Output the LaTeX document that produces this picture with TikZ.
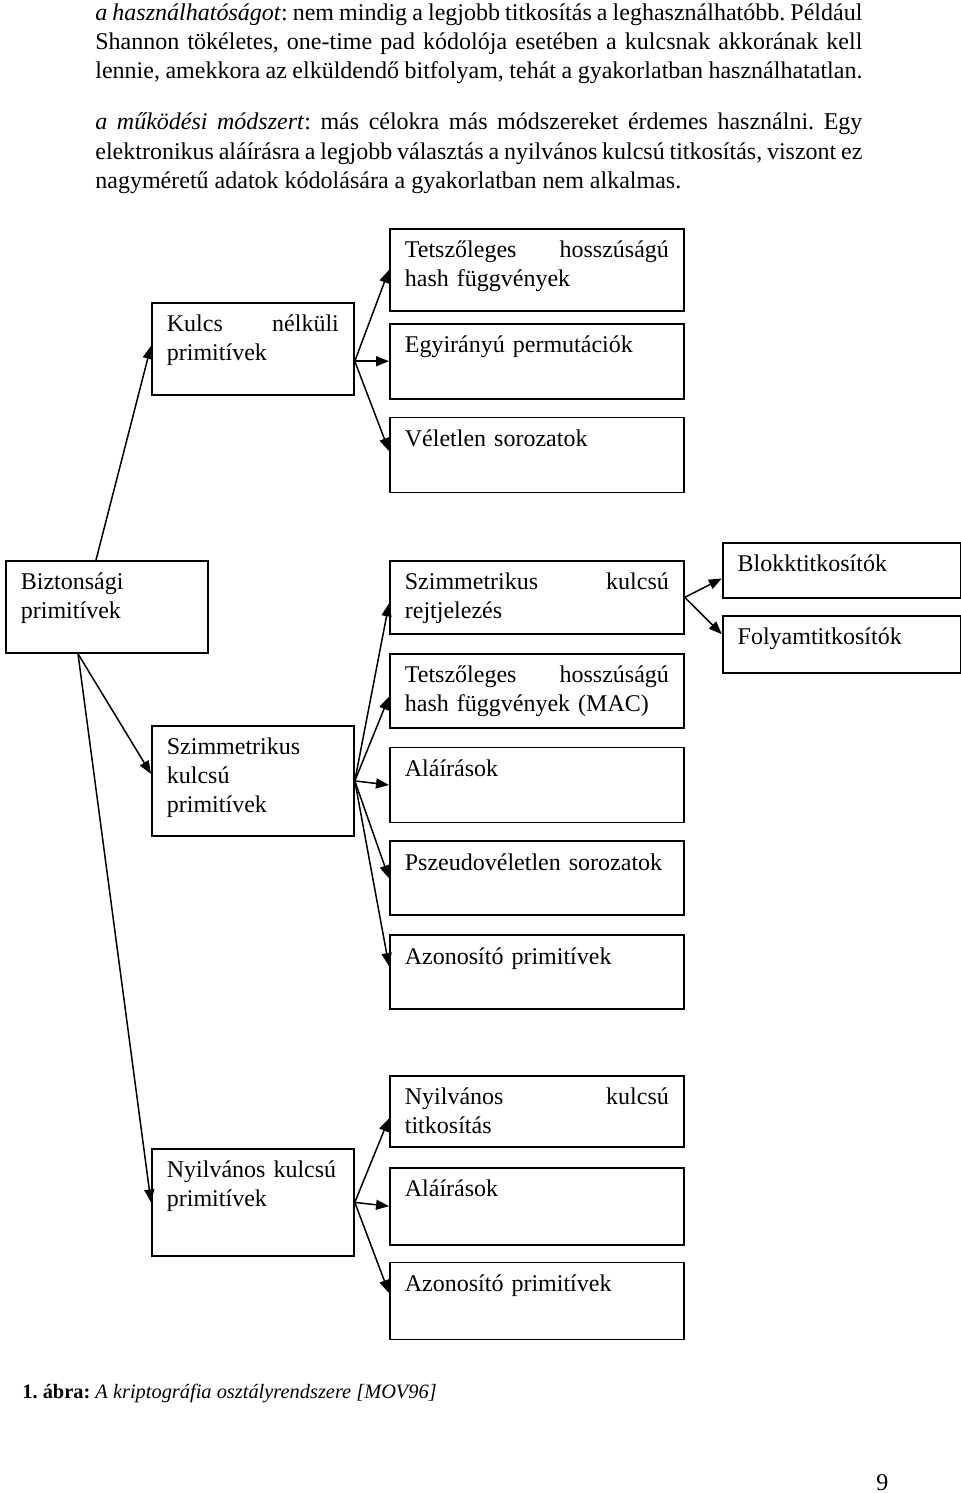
\documentclass[tikz,border=0pt]{standalone}
\usepackage{fontspec}
\setmainfont{Liberation Serif}
\usetikzlibrary{positioning,arrows.meta}
\frenchspacing

\tikzset{
  box/.style={draw, line width=0.9pt, align=left, inner xsep=7.5pt, inner ysep=5.5pt, text height=9pt},
  lbox/.style={box, text width=86pt, text depth=#1},
  rbox/.style={box, text width=132pt, text depth=#1},
  sbox/.style={box, text width=104pt, text depth=#1},
  link/.style={-{Triangle[length=6.5pt,width=5pt]}, line width=0.75pt},
  para/.style={anchor=base west, inner sep=0pt, text width=383.5pt, align=justify,
    execute at begin node={\hyphenpenalty=10000\exhyphenpenalty=10000\tolerance=10000}}
}

\begin{document}
\begin{tikzpicture}[x=0.5pt, y=-0.5pt, font=\fontsize{12}{14.5}\selectfont]
  \useasboundingbox (0,0) rectangle (960,1493);

  % Text
  \node[para] (par1) at (95,21) {\textit{a használhatóságot}: nem mindig a legjobb titkosítás a leghasználhatóbb. Például\linebreak
    Shannon tökéletes, one-time pad kódolója esetében a kulcsnak akkorának kell\linebreak
    lennie, amekkora az elküldendő bitfolyam, tehát a gyakorlatban használhatatlan.};
  \node[para] (par2) at (95,130) {\textit{a működési módszert}: más célokra más módszereket érdemes használni. Egy\linebreak
    elektronikus aláírásra a legjobb választás a nyilvános kulcsú titkosítás, viszont ez\linebreak
    nagyméretű adatok kódolására a gyakorlatban nem alkalmas.};

  % Left column
  \node[lbox=26pt, anchor=north west] (bizt) at (5,560) {Biztonsági\\primitívek};
  \node[lbox=26pt, anchor=north west] (kulcs) at (151,302) {Kulcs\hfill nélküli\\primitívek};
  \node[lbox=35pt, anchor=north west] (szprim) at (151,725) {Szimmetrikus\\kulcsú\\primitívek};
  \node[lbox=33.5pt, anchor=north west] (nyprim) at (151,1148) {Nyilvános kulcsú\\primitívek};

  % Keyless primitives
  \node[rbox=21pt, anchor=north west] (hashA) at (389,228) {Tetszőleges\hfill hosszúságú\\hash függvények};
  \node[rbox=17.5pt, below=5.5pt of hashA] (egyir) {Egyirányú permutációk};
  \node[rbox=17.5pt, below=8.5pt of egyir] (velet) {Véletlen sorozatok};

  % Symmetric key primitives
  \node[rbox=16.5pt, anchor=north west] (szrejt) at (389,560) {Szimmetrikus\hfill kulcsú\\rejtjelezés};
  \node[rbox=17pt, below=9pt of szrejt] (hashB) {Tetszőleges\hfill hosszúságú\\hash függvények (MAC)};
  \node[rbox=17.5pt, below=9pt of hashB] (alairA) {Aláírások};
  \node[rbox=17pt, below=8.5pt of alairA] (pszeudo) {Pszeudovéletlen sorozatok};
  \node[rbox=17pt, below=9pt of pszeudo] (azonA) {Azonosító primitívek};

  \node[sbox=7.5pt, right=18.5pt of szrejt.north east, anchor=north west, yshift=9pt] (blokk) {Blokktitkosítók};
  \node[sbox=8.5pt, below=8pt of blokk] (folyam) {Folyamtitkosítók};

  % Public key primitives
  \node[rbox=15.5pt, anchor=north west] (nyiltit) at (389,1075) {Nyilvános\hfill kulcsú\\titkosítás};
  \node[rbox=18.5pt, below=9.5pt of nyiltit] (alairB) {Aláírások};
  \node[rbox=18.5pt, below=8pt of alairB] (azonB) {Azonosító primitívek};

  % Links
  \draw[link] ([xshift=45.5pt]bizt.north west) -- ([yshift=1.5pt]kulcs.west);
  \draw[link] ([xshift=36.5pt]bizt.south west) -- ([yshift=3.5pt]szprim.west);
  \draw[link] ([xshift=36.5pt]bizt.south west) -- (nyprim.west);

  \draw[link] (kulcs.east |- egyir.west) -- (hashA.west);
  \draw[link] (kulcs.east |- egyir.west) -- (egyir.west);
  \draw[link] (kulcs.east |- egyir.west) -- ([yshift=2pt]velet.west);

  \draw[link] (szprim.east) -- ([yshift=-3pt]szrejt.west);
  \draw[link] (szprim.east) -- ([yshift=-3pt]hashB.west);
  \draw[link] (szprim.east) -- (alairA.west);
  \draw[link] (szprim.east) -- (pszeudo.west);
  \draw[link] (szprim.east) -- ([yshift=3pt]azonA.west);

  \draw[link] (szrejt.east) -- ([yshift=-4pt]blokk.west);
  \draw[link] (szrejt.east) -- ([yshift=5pt]folyam.west);

  \draw[link] (nyprim.east) -- ([yshift=-3.5pt]nyiltit.west);
  \draw[link] (nyprim.east) -- (alairB.west);
  \draw[link] (nyprim.east) -- ([yshift=4pt]azonB.west);

  % Caption
  \node[anchor=base west, inner sep=0pt, font=\fontsize{10.2}{12}\selectfont] (caption) at (22,1398) {\textbf{1. ábra:} \textit{A kriptográfia osztályrendszere [MOV96]}};
  \node[anchor=base west, inner sep=0pt] (pagenum) at (876,1490) {9};
\end{tikzpicture}
\end{document}
